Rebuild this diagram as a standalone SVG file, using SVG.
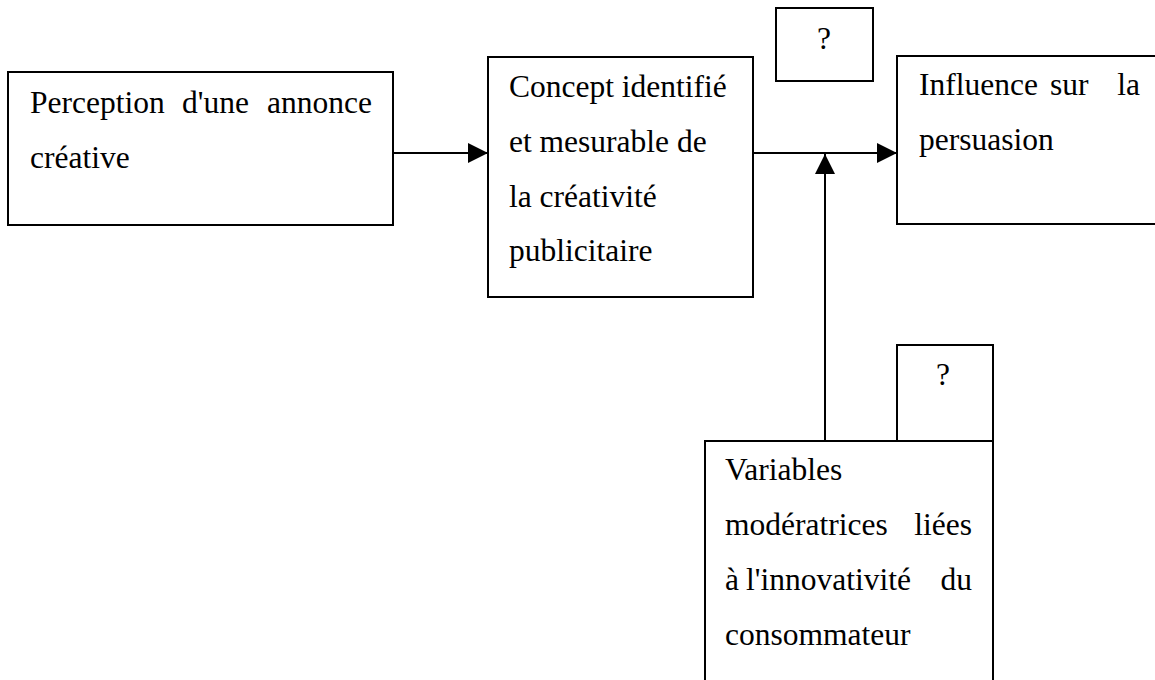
<svg xmlns="http://www.w3.org/2000/svg" width="1155" height="680" viewBox="0 0 1155 680">
<style>
.box{fill:#fff;stroke:#000;stroke-width:2}
.t{font-family:"Liberation Serif","Times New Roman",serif;font-size:31.5px;fill:#000}
.e{text-anchor:end}
.m{text-anchor:middle}
.ln{stroke:#000;stroke-width:2;fill:none}
</style>
<defs>
<marker id="ah" markerWidth="20" markerHeight="20" refX="20" refY="10" orient="auto" markerUnits="userSpaceOnUse">
<path d="M0,0 L20,10 L0,20 Z" fill="#000"/>
</marker>
</defs>
<rect width="1155" height="680" fill="#fff"/>
<g id="connectors">
<line class="ln" x1="393" y1="153" x2="488" y2="153" marker-end="url(#ah)"/>
<line class="ln" x1="753" y1="153" x2="897" y2="153" marker-end="url(#ah)"/>
<line class="ln" x1="825" y1="441" x2="825" y2="154" marker-end="url(#ah)"/>
</g>
<g id="node-perception">
<rect class="box" x="8" y="72" width="385" height="153"/>
<text class="t" x="30" y="113">Perception</text>
<text class="t" x="182" y="113">d'une</text>
<text class="t e" x="372" y="113">annonce</text>
<text class="t" x="30" y="168">créative</text>
</g>
<g id="node-concept">
<rect class="box" x="488" y="57" width="265" height="240"/>
<text class="t" x="509" y="97">Concept identifié</text>
<text class="t" x="509" y="152">et mesurable de</text>
<text class="t" x="509" y="207">la créativité</text>
<text class="t" x="509" y="261">publicitaire</text>
</g>
<g id="node-q1">
<rect class="box" x="776" y="8" width="97" height="73"/>
<text class="t m" x="824" y="49">?</text>
</g>
<g id="node-influence">
<rect class="box" x="897" y="56" width="270" height="168"/>
<text class="t" x="919" y="95">Influence</text>
<text class="t" x="1050" y="95">sur</text>
<text class="t e" x="1140" y="95">la</text>
<text class="t" x="919" y="150">persuasion</text>
</g>
<g id="node-q2">
<rect class="box" x="897" y="345" width="96" height="96"/>
<text class="t m" x="943" y="385">?</text>
</g>
<g id="node-variables">
<rect class="box" x="705" y="441" width="288" height="250"/>
<text class="t" x="725" y="480">Variables</text>
<text class="t" x="725" y="535">modératrices</text>
<text class="t e" x="972" y="535">liées</text>
<text class="t" x="725" y="590">à</text>
<text class="t" x="746" y="590">l'innovativité</text>
<text class="t e" x="972" y="590">du</text>
<text class="t" x="725" y="645">consommateur</text>
</g>
</svg>
